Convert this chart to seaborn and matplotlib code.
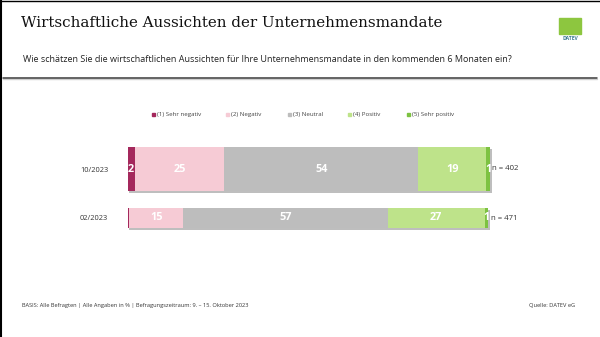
import numpy as np
import pandas as pd
import matplotlib
matplotlib.use("Agg")
import matplotlib.pyplot as plt
import seaborn as sns
from matplotlib import patheffects as pe
from matplotlib.patches import Rectangle
from matplotlib.lines import Line2D

# ---------------- data ----------------
categories = ["10/2023", "02/2023"]
series_names = ["(1) Sehr negativ", "(2) Negativ", "(3) Neutral", "(4) Positiv", "(5) Sehr positiv"]
sehr_negativ = [2, 0.5]
negativ = [25, 15]
neutral = [54, 57]
positiv = [19, 27]
sehr_positiv = [1, 1]
n_labels = ["n = 402", "n = 471"]

title = "Wirtschaftliche Aussichten der Unternehmensmandate"
subtitle = "Wie schätzen Sie die wirtschaftlichen Aussichten für Ihre Unternehmensmandate in den kommenden 6 Monaten ein?"
footer_left = "BASIS: Alle Befragten | Alle Angaben in % | Befragungszeitraum: 9. – 15. Oktober 2023"
footer_right = "Quelle: DATEV eG"

colors = ["#A4285C", "#F6CBD5", "#BDBDBD", "#BEE38A", "#7DC242"]

# ---------------- setup ----------------
sns.set_theme(style="white")
plt.rcParams["font.family"] = ["Open Sans", "DejaVu Sans"]

W, H = 600, 337
fig = plt.figure(figsize=(6, 3.37), dpi=100)
fig.patch.set_facecolor("white")


def fx(x):
    return x / W


def fy(y):
    return 1 - y / H


series = [sehr_negativ, negativ, neutral, positiv, sehr_positiv]
df = pd.DataFrame({"Zeitraum": categories})
for name, vals in zip(series_names, series):
    df[name] = vals
cum = df[series_names].cumsum(axis=1)
cum_cols = [f"cum_{k}" for k in range(len(series_names))]
for k, name in enumerate(series_names):
    df[cum_cols[k]] = cum[name]

# axes: x 0..101 mapped onto pixels 127.5..490 ; rows centred at y=169 and y=218
x0, x1 = 127.5, 490
yt, yb = 144.5, 242.5
ax = fig.add_axes([fx(x0), fy(yb), (x1 - x0) / W, (yb - yt) / H])
ax.patch.set_alpha(0)

row_widths = [44 / 49, 20 / 49]

for i, cat in enumerate(categories):
    sub = df[df["Zeitraum"] == cat]
    for k in range(len(series_names) - 1, -1, -1):
        before = len(ax.patches)
        sns.barplot(data=sub, x=cum_cols[k], y="Zeitraum", order=categories,
                    color=colors[k], saturation=1, width=row_widths[i],
                    errorbar=None, linewidth=0, edgecolor="none", ax=ax)
        new = ax.patches[before:]
        for p in new:
            p.set_clip_on(False)
            if k == len(series_names) - 1:
                p.set_path_effects([pe.SimplePatchShadow(offset=(1.3, -1.3),
                                                          shadow_rgbFace="#8a8a8a",
                                                          alpha=0.55),
                                    pe.Normal()])

ax.set_xlim(0, 101)
ax.set_ylim(1.5, -0.5)
sns.despine(ax=ax, left=True, bottom=True)
ax.set_xlabel("")
ax.set_ylabel("")
ax.set_xticks([])
ax.set_yticks(range(len(categories)))
ax.set_yticklabels(categories)
ax.tick_params(axis="y", length=0, pad=14, labelsize=5.3, labelcolor="#333333")

# segment value labels
for i, cat in enumerate(categories):
    left = 0
    for k, name in enumerate(series_names):
        v = df.loc[i, name]
        if v >= 1:
            ax.text(left + v / 2, i, f"{v:g}", ha="center", va="center",
                    color="white", fontsize=7.8, fontweight="bold")
        left += v
    ax.annotate(n_labels[i], xy=(left, i), xytext=(1.8, 0), textcoords="offset points",
                ha="left", va="center", fontsize=5.6, color="#333333",
                annotation_clip=False)

# legend (manual)
legend_x = [152, 226, 288, 348, 407]
for k, name in enumerate(series_names):
    fig.patches.append(Rectangle((fx(legend_x[k]), fy(116)), 3.3 / W, 3.3 / H,
                                 transform=fig.transFigure, color=colors[k]))
    fig.text(fx(legend_x[k] + 5.2), fy(114.3), name, fontsize=4.4, color="#444444",
             ha="left", va="center")

# title, subtitle
fig.text(fx(21), fy(23), title, family="DejaVu Serif", fontsize=10.9, color="#111111",
         ha="left", va="center")
fig.text(fx(23), fy(60), subtitle, fontsize=6.45, color="#222222", ha="left", va="center")

# horizontal rule with soft shadow
fig.add_artist(Line2D([fx(3), fx(597)], [fy(79.2), fy(79.2)], lw=1.0, color="#cfcfcf",
                      transform=fig.transFigure))
fig.add_artist(Line2D([fx(3), fx(597)], [fy(77.8), fy(77.8)], lw=1.1, color="#3a3a3a",
                      transform=fig.transFigure))

# borders (top and left)
fig.add_artist(Line2D([fx(0.9), fx(0.9)], [0, 1], lw=1.5, color="black",
                      transform=fig.transFigure))
fig.add_artist(Line2D([0, 1], [fy(0.6), fy(0.6)], lw=1.0, color="black",
                      transform=fig.transFigure))

# logo
fig.patches.append(Rectangle((fx(559), fy(34)), 22 / W, 16.5 / H,
                             transform=fig.transFigure, color="#8DC63F"))
fig.text(fx(570), fy(38), "DATEV", fontsize=3.6, fontweight="bold", color="#3b7a8f",
         ha="center", va="center")

# footer
fig.text(fx(22), fy(306), footer_left, fontsize=4.1, color="#333333", ha="left", va="center")
fig.text(fx(575), fy(306), footer_right, fontsize=4.1, color="#333333", ha="right", va="center")

fig.savefig("out.png", dpi=100, facecolor="white")
